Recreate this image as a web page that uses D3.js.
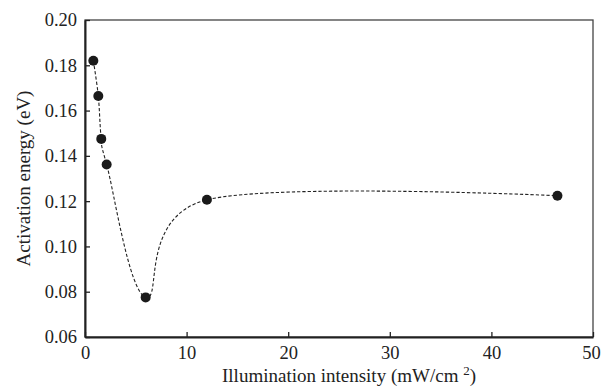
<!DOCTYPE html>
<html>
<head>
<meta charset="utf-8">
<script src="https://cdn.jsdelivr.net/npm/d3@7"></script>
<style>
  body { margin: 0; background: #fff; }
</style>
</head>
<body>
<svg width="601" height="390"></svg>
<script>
const intensity = [0.82, 1.31, 1.6, 2.13, 5.97, 12.0, 46.5];
const energy = [0.182, 0.1664, 0.1475, 0.1362, 0.0775, 0.1206, 0.1224];
const xTicks = [0, 10, 20, 30, 40, 50];
const yTicks = [0.06, 0.08, 0.10, 0.12, 0.14, 0.16, 0.18, 0.20];

const serif = '"Liberation Serif", serif';
const svg = d3.select("svg");
const margin = { top: 20, right: 8, bottom: 53, left: 85 };
const width = 601 - margin.left - margin.right;
const height = 390 - margin.top - margin.bottom;

const g = svg.append("g").attr("transform", `translate(${margin.left}, ${margin.top})`);

const x = d3.scaleLinear().domain([0, 50]).range([0, width]);
const y = d3.scaleLinear().domain([0.06, 0.2]).range([height, 0]);

// frame
g.append("rect")
  .attr("width", width)
  .attr("height", height)
  .attr("fill", "none")
  .attr("stroke", "#444")
  .attr("stroke-width", 1.3);

const xAxis = g.append("g")
  .attr("transform", `translate(0, ${height})`)
  .call(d3.axisBottom(x).tickValues(xTicks).tickSizeInner(-5).tickSizeOuter(0).tickPadding(9));
const yAxis = g.append("g")
  .call(d3.axisLeft(y).tickValues(yTicks).tickFormat(d3.format(".2f")).tickSizeInner(-5).tickSizeOuter(0).tickPadding(8));

[xAxis, yAxis].forEach(a => {
  a.attr("font-family", null);
  a.select(".domain").attr("stroke", "#222").attr("stroke-width", 2);
  a.selectAll(".tick line").attr("stroke", "#222").attr("stroke-width", 1.3);
  a.selectAll(".tick text")
    .style("font-family", serif)
    .style("font-size", "18.5px")
    .attr("fill", "#222");
});
// keep the last label inside the window
xAxis.selectAll(".tick text").filter(d => d === 50).attr("dx", -2);

// fitted dashed curve
const pts = intensity.map((d, i) => [d, energy[i]]);
g.append("path")
  .attr("d", d3.line().x(d => x(d[0])).y(d => y(d[1])).curve(d3.curveCatmullRom.alpha(0))(pts))
  .attr("fill", "none")
  .attr("stroke", "#222")
  .attr("stroke-width", 1.1)
  .attr("stroke-dasharray", "3.3,2");

g.selectAll("circle.pt")
  .data(pts)
  .join("circle")
  .attr("class", "pt")
  .attr("cx", d => x(d[0]))
  .attr("cy", d => y(d[1]))
  .attr("r", 5)
  .attr("fill", "#1a1a1a");

// axis titles
const xt = svg.append("text")
  .attr("x", 349)
  .attr("y", 382)
  .attr("text-anchor", "middle")
  .attr("fill", "#222")
  .style("font-family", serif)
  .style("font-size", "19px");
xt.append("tspan").text("Illumination intensity (mW/cm ");
xt.append("tspan").text("2").attr("dy", -7).style("font-size", "13px");
xt.append("tspan").text(")").attr("dy", 7);

svg.append("text")
  .attr("transform", `translate(30, ${margin.top + height / 2}) rotate(-90)`)
  .attr("text-anchor", "middle")
  .attr("fill", "#222")
  .style("font-family", serif)
  .style("font-size", "19px")
  .text("Activation energy (eV)");
</script>
</body>
</html>
